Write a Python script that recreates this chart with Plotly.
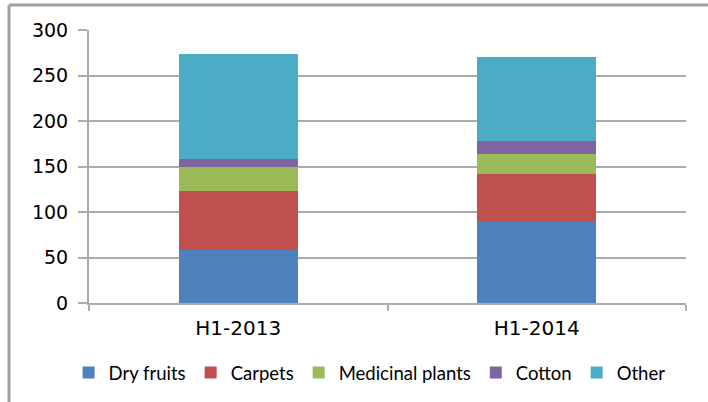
import plotly.graph_objects as go

categories = ["H1-2013", "H1-2014"]
dry_fruits = [58, 89]
carpets = [65, 53]
medicinal_plants = [27, 22]
cotton = [8, 14]
other = [116, 92]

series = [
    ("Dry fruits", dry_fruits, "#4F81BD"),
    ("Carpets", carpets, "#C0504D"),
    ("Medicinal plants", medicinal_plants, "#9BBB59"),
    ("Cotton", cotton, "#8064A2"),
    ("Other", other, "#4BACC6"),
]

fig = go.Figure()
for name, vals, color in series:
    fig.add_trace(go.Bar(name=name, x=categories, y=vals, marker=dict(color=color, line=dict(width=0))))

W, H = 708, 402
L, R, T, B = 89, 22, 30, 99
pw, ph = W - L - R, H - T - B

def px(x):
    return (x - L) / pw

def py(y):
    return (H - B - y) / ph

grid = "#ababab"
fig.update_layout(
    width=W, height=H,
    barmode="stack", bargap=0.6,
    margin=dict(l=L, r=R, t=T, b=B, autoexpand=False),
    paper_bgcolor="white", plot_bgcolor="white",
    showlegend=True,
    legend=dict(orientation="h", x=0.47, xanchor="center", y=py(373), yanchor="middle",
                font=dict(family="Lato", size=18.5, color="#000000"),
                traceorder="normal", itemwidth=30, itemsizing="constant"),
    xaxis=dict(type="category", showline=True, linecolor=grid, linewidth=2,
               ticks="outside", tickson="boundaries", ticklen=6, tickcolor=grid, tickwidth=2,
               tickfont=dict(family="DejaVu Sans", size=20, color="#000000"),
               ticklabelstandoff=6,
               showgrid=False),
    yaxis=dict(range=[0, 300], dtick=50, showline=True, linecolor=grid, linewidth=2,
               ticks="outside", ticklen=9, tickcolor=grid, tickwidth=2,
               tickfont=dict(family="DejaVu Sans", size=19, color="#000000"),
               ticklabelstandoff=6,
               showgrid=True, gridcolor=grid, gridwidth=2, zeroline=False),
    shapes=[
        dict(type="line", xref="paper", yref="paper", x0=px(9), x1=px(708), y0=py(5), y1=py(5),
             line=dict(color="#a0a0a0", width=3)),
        dict(type="line", xref="paper", yref="paper", x0=px(9), x1=px(9), y0=py(5), y1=py(402),
             line=dict(color="#a0a0a0", width=3)),
    ],
)

fig.write_html("out.html", config={"displayModeBar": False},
               post_script="document.body.style.margin='0';document.body.style.padding='0';")
